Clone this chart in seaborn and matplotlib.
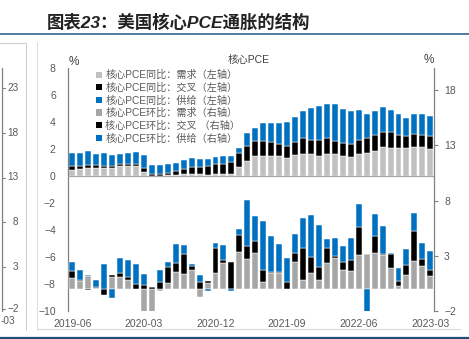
import numpy as np
import pandas as pd
import matplotlib
matplotlib.use("Agg")
import matplotlib.pyplot as plt
from matplotlib.patches import Patch
from matplotlib.lines import Line2D
import seaborn as sns

# ---------------- data ----------------
months = [p.strftime("%Y-%m") for p in pd.period_range("2019-06", "2023-03", freq="M")]
tick_labels = ["2019-06", "2020-03", "2020-12", "2021-09", "2022-06", "2023-03"]

# core PCE YoY contributions (left axis, %)
yoy_demand = [0.47, 0.52, 0.62, 0.62, 0.59, 0.57, 0.74, 0.74, 0.72, 0.32,
              0.03, 0.03, 0.07, 0.07, 0.12, 0.17, 0.12, 0.07, 0.15, 0.12,
              0.17, 0.64, 1.14, 1.49, 1.49, 1.49, 1.49, 1.31, 1.56, 1.61,
              1.61, 1.49, 1.66, 1.61, 1.51, 1.41, 1.61, 1.73, 1.88, 2.15,
              2.10, 2.05, 2.05, 2.18, 2.15, 2.00]
yoy_cross = [0.27, 0.25, 0.17, 0.17, 0.15, 0.15, 0.13, 0.18, 0.17, 0.25,
             0.12, 0.12, 0.15, 0.30, 0.40, 0.47, 0.57, 0.67, 0.72, 0.80,
             0.89, 1.04, 1.11, 1.11, 1.11, 1.01, 0.89, 0.94, 0.99, 1.19,
             1.09, 1.16, 1.14, 1.01, 0.94, 0.97, 1.09, 1.07, 1.16, 1.12,
             1.17, 0.99, 0.92, 0.94, 0.89, 0.95]
yoy_supply = [0.99, 0.96, 1.04, 0.84, 0.94, 0.81, 0.74, 0.76, 0.89, 0.96,
              0.67, 0.67, 0.65, 0.62, 0.67, 0.72, 0.57, 0.52, 0.57, 0.55,
              0.43, 0.37, 0.92, 0.99, 1.31, 1.46, 1.58, 1.76, 1.81, 2.03,
              2.32, 2.52, 2.55, 2.68, 2.50, 2.45, 2.20, 1.78, 1.79, 1.83,
              1.63, 1.54, 1.34, 1.46, 1.54, 1.53]

# core PCE MoM (annualised) contributions (right axis, %)
mom_demand = [1.01, 0.73, 1.19, 0.06, -0.05, 1.10, 1.10, 0.79, 0.03, -2.10,
              -2.10, -0.20, 0.55, 1.55, 1.37, 1.68, -0.76, 0.52, 1.46, 2.32,
              0.03, 3.35, 2.74, 3.23, 0.67, 1.46, 1.40, -0.05, 2.41, 0.79,
              1.40, 0.85, 2.35, 2.80, 1.68, 1.65, 3.05, 3.14, 3.23, 3.05,
              1.86, 0.30, 1.25, 2.53, 2.04, 1.13]
mom_cross = [0.58, 0.12, -0.12, 0.12, -0.52, 0.12, 0.30, 0.30, 0.40, 0.37,
             0.15, 0.61, 1.43, 0.79, 1.77, 0.40, 0.67, 0.21, 2.23, 0.27,
             2.41, 1.52, 1.16, 1.13, 1.01, 0.09, 0.12, 0.67, 0.82, 2.90,
             1.52, 1.10, 1.34, 0.15, 0.73, 0.95, 2.59, 0.00, 1.59, 0.15,
             1.34, 0.46, 0.91, 2.68, 0.64, 0.55]
mom_supply = [0.88, 0.82, 0.06, 0.61, 2.29, -0.85, 1.37, 1.49, 1.83, 0.94,
              0.00, 1.13, 0.46, 1.77, 0.85, 0.15, 0.55, -0.16, 0.45, 1.37,
              -0.16, 0.53, 4.13, 2.25, 4.46, 3.26, 2.59, 2.13, 1.77, 2.71,
              3.81, 3.81, 0.79, 1.62, 1.43, 2.01, 2.07, -2.07, 1.92, 2.50,
              0.06, 1.16, 1.43, 1.62, 1.52, 1.74]

legend_labels = ["核心PCE同比：需求（左轴）", "核心PCE同比：交叉（左轴）", "核心PCE同比：供给（左轴）",
                 "核心PCE环比：需求（右轴）", "核心PCE环比：交叉 （右轴）", "核心PCE环比：供给（右轴）"]

C_LGRAY, C_GRAY, C_BLACK, C_BLUE = "#C0C0C0", "#A6A6A6", "#000000", "#0070C0"

# ---------------- style ----------------
sns.set_theme(style="white")
plt.rcParams["font.family"] = ["Liberation Sans", "Noto Sans CJK SC", "DejaVu Sans"]
plt.rcParams["axes.unicode_minus"] = True

W, H = 469, 339
def fx(x): return x / W
def fy(y): return 1 - y / H

fig = plt.figure(figsize=(W / 100, H / 100), dpi=100)
fig.patch.set_facecolor("white")
L, R, T, B = 68.3, 434.3, 68.0, 311.0
ax = fig.add_axes([fx(L), fy(B), (R - L) / W, (B - T) / H])
ax2 = ax.twinx()

n = len(months)

def stack(target, series, colors):
    pos = np.zeros(n)
    neg = np.zeros(n)
    for vals, col in zip(series, colors):
        v = np.asarray(vals, float)
        bottom = np.where(v >= 0, pos, neg)
        df = pd.DataFrame({"month": months, "value": v})
        sns.barplot(data=df, x="month", y="value", order=months, color=col,
                    saturation=1, errorbar=None, width=0.75, bottom=bottom,
                    edgecolor="white", linewidth=0.35, ax=target)
        pos = pos + np.where(v >= 0, v, 0)
        neg = neg + np.where(v < 0, v, 0)

stack(ax, [yoy_demand, yoy_cross, yoy_supply], [C_LGRAY, C_BLACK, C_BLUE])
stack(ax2, [mom_demand, mom_cross, mom_supply], [C_GRAY, C_BLACK, C_BLUE])

ax.axhline(0, color="#A6A6A6", lw=0.9, zorder=5)

ax.set_ylim(-10, 8)
ax.set_yticks(range(-10, 9, 2))
ax2.set_ylim(-2, 20)
ax2.set_yticks([-2, 3, 8, 13, 18])
ax.set_xlim(-0.5, n - 0.5)
ax.set_xticks([months.index(t) for t in tick_labels])
ax.set_xticklabels(tick_labels)
for a in (ax, ax2):
    a.set_xlabel("")
    a.set_ylabel("")
    a.grid(False)

for s in ["top", "bottom", "right"]:
    ax.spines[s].set_visible(False)
for s in ["top", "bottom", "left"]:
    ax2.spines[s].set_visible(False)
ax.spines["left"].set_color("#808080")
ax.spines["left"].set_linewidth(0.9)
ax2.spines["right"].set_color("#808080")
ax2.spines["right"].set_linewidth(0.9)

ax.tick_params(axis="y", length=0, pad=9, labelsize=7.5, labelcolor="#595959")
ax.tick_params(axis="x", length=0, pad=6, labelsize=7.5, labelcolor="#595959")
ax2.tick_params(axis="y", length=3, width=0.8, color="#808080", direction="out",
                pad=4, labelsize=7.5, labelcolor="#595959")

# legend
handles = [Patch(facecolor=c, edgecolor="none") for c in
           [C_LGRAY, C_BLACK, C_BLUE, C_GRAY, C_BLACK, C_BLUE]]
fig.legend(handles, legend_labels, loc="upper left", bbox_to_anchor=(fx(96), fy(70)),
           frameon=False, fontsize=7.3, handlelength=0.55, handleheight=0.55,
           handletextpad=0.35, labelspacing=0.24, borderpad=0, borderaxespad=0,
           labelcolor="#595959")

# texts
fig.text(fx(74), fy(62), "%", ha="center", va="center", fontsize=8.5, color="#404040")
fig.text(fx(429), fy(60), "%", ha="center", va="center", fontsize=8.5, color="#404040")
fig.text(fx(249), fy(60), "核心PCE", ha="center", va="center", fontsize=7.5, color="#404040")
fig.text(fx(47), fy(22), "图表23：美国核心PCE通胀的结构", ha="left", va="center",
         fontsize=12.5, weight="bold", style="italic", color="#222222")

# separators / frames
fig.add_artist(Line2D([0, 1], [fy(34.3)] * 2, color="#2F6590", lw=1.2, transform=fig.transFigure))
fig.add_artist(Line2D([0, 1], [fy(337.6)] * 2, color="#1F4E79", lw=1.6, transform=fig.transFigure))
fig.add_artist(Line2D([fx(36.7), fx(36.7)], [fy(42), fy(329)], color="#E0E0E0", lw=0.8, transform=fig.transFigure))
fig.add_artist(Line2D([fx(36.7), fx(460)], [fy(329), fy(329)], color="#D9D9D9", lw=0.8, transform=fig.transFigure))

# neighbouring chart fragment at the left edge
fig.add_artist(Line2D([0, fx(26)], [fy(43), fy(43)], color="#D0D0D0", lw=0.8, transform=fig.transFigure))
fig.add_artist(Line2D([fx(26), fx(26)], [fy(43), fy(330)], color="#D0D0D0", lw=0.8, transform=fig.transFigure))
fig.add_artist(Line2D([fx(1.5), fx(1.5)], [fy(68), fy(311)], color="#808080", lw=0.9, transform=fig.transFigure))
for lab, yy in zip(["23", "18", "13", "8", "3", "\u22122"], [88, 133, 177.5, 222, 266.5, 309]):
    fig.add_artist(Line2D([fx(1.5), fx(4.5)], [fy(yy), fy(yy)], color="#808080", lw=0.8, transform=fig.transFigure))
    fig.text(fx(18.5), fy(yy), lab, ha="right", va="center", fontsize=7.2, color="#595959")
fig.text(fx(0.5), fy(320.5), "-03", ha="left", va="center", fontsize=7.2, color="#595959")

fig.savefig("out.png", dpi=100, facecolor="white")
